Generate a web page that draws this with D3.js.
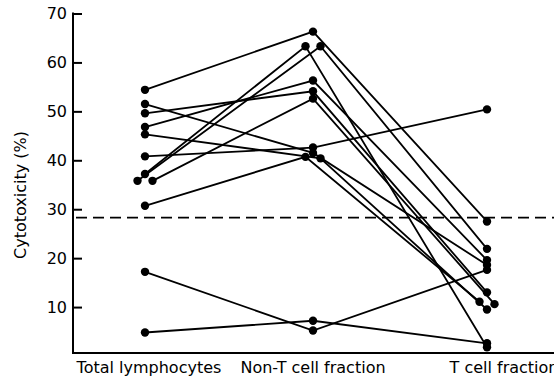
<!DOCTYPE html>
<html>
<head>
<meta charset="utf-8">
<script src="https://cdn.jsdelivr.net/npm/d3@7"></script>
<style>
  body { margin: 0; background: #fff; }
  svg text { font-family: "DejaVu Sans", sans-serif; fill: #000; }
</style>
</head>
<body>
<div class="chart"></div>
<script>
// values, one entry per subject
var categories = ["Total lymphocytes", "Non-T cell fraction", "T cell fraction"];
var totalValues = [54.4, 51.5, 49.6, 46.8, 45.3, 40.8, 37.2, 35.8, 35.8, 30.7, 17.2, 4.8];
var nonTValues  = [66.3, 41.5, 54.1, 56.3, 40.4, 42.6, 63.3, 63.3, 52.6, 40.7, 5.2, 7.2];
var tValues     = [27.5, 18.6, 13.0, 19.6, 9.5, 50.4, 1.8, 21.9, 10.6, 11.1, 17.6, 2.6];
var yTicks = [10, 20, 30, 40, 50, 60, 70];
var cutoff = 28.3;
var yLabel = "Cytotoxicity (%)";

drawChart();

// nearly equal dots in one column are set side by side
function dodge(values){
    return values.map(function(v, i){
        for (var j = 0; j < values.length; j++) {
            if (j != i && Math.abs(values[j] - v) <= 0.6) {
                if (v > values[j] || (v == values[j] && i < j)) return -7.5;
                return 7.5;
            }
        }
        return 0;
    });
}

function drawChart(){
    var w = 554;
    var h = 381;

    var x = d3.scaleOrdinal()
      .domain(categories)
      .range([145, 313, 487]);

    var y = d3.scaleLinear()
      .domain([0, 70])
      .range([356, 13.5]);

    var svg = d3.select(".chart")
      .append("svg")
      .attr("width", w)
      .attr("height", h);

    var columns = [totalValues, nonTValues, tValues];
    var offsets = columns.map(dodge);

    // build points for each subject
    var subjects = totalValues.map(function(d, i){
        return categories.map(function(c, k){
            return { cat: c, value: columns[k][i], dx: offsets[k][i] };
        });
    });

    var axisX = 73;
    var baseY = 353;

    // y axis, ticks point inward
    var yAxis = d3.axisLeft(y)
      .tickValues(yTicks)
      .tickSizeInner(-9)
      .tickSizeOuter(0)
      .tickPadding(6);

    var gy = svg.append("g")
      .attr("transform", "translate(" + axisX + ",0)")
      .call(yAxis);
    gy.select(".domain").remove();
    gy.selectAll(".tick line").attr("stroke", "#000").attr("stroke-width", 2);
    gy.selectAll(".tick text")
      .attr("font-size", 16)
      .attr("font-family", "DejaVu Sans");

    svg.append("line")
      .attr("x1", axisX).attr("x2", axisX)
      .attr("y1", y(70) - 1).attr("y2", baseY)
      .attr("stroke", "#000").attr("stroke-width", 2);

    svg.append("line")
      .attr("x1", axisX - 1).attr("x2", w)
      .attr("y1", baseY).attr("y2", baseY)
      .attr("stroke", "#000").attr("stroke-width", 2);

    // dashed cut-off line
    svg.append("line")
      .attr("x1", axisX + 3).attr("x2", w)
      .attr("y1", y(cutoff)).attr("y2", y(cutoff))
      .attr("stroke", "#000")
      .attr("stroke-width", 1.8)
      .attr("stroke-dasharray", "11,6");

    // subject lines
    var line = d3.line()
      .x(function(d){ return x(d.cat) + d.dx; })
      .y(function(d){ return y(d.value); });

    svg.selectAll("path.subject")
      .data(subjects)
      .enter()
      .append("path")
      .attr("class", "subject")
      .attr("d", line)
      .attr("fill", "none")
      .attr("stroke", "#000")
      .attr("stroke-width", 1.8);

    // dots
    svg.selectAll("circle")
      .data(d3.merge(subjects))
      .enter()
      .append("circle")
      .attr("cx", function(d){ return x(d.cat) + d.dx; })
      .attr("cy", function(d){ return y(d.value); })
      .attr("r", 4.2)
      .attr("fill", "#000");

    // category labels
    var labelShift = [4, 0, 17];
    svg.selectAll("text.cat")
      .data(categories)
      .enter()
      .append("text")
      .attr("class", "cat")
      .attr("x", function(d, i){ return x(d) + labelShift[i]; })
      .attr("y", 373)
      .attr("text-anchor", "middle")
      .attr("font-size", 16)
      .text(function(d){ return d; });

    svg.append("text")
      .attr("transform", "translate(25.5,195) rotate(-90)")
      .attr("text-anchor", "middle")
      .attr("font-size", 16)
      .text(yLabel);
}
</script>
</body>
</html>
